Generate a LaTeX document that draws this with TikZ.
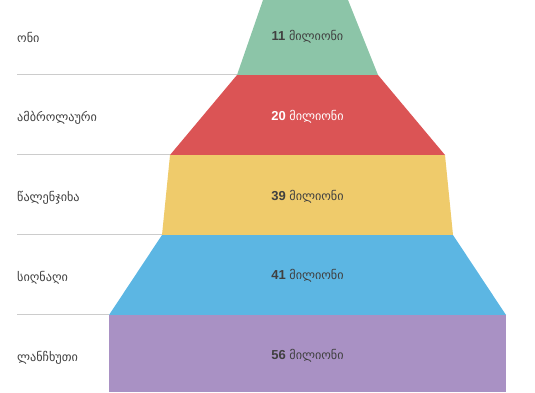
\documentclass[tikz,border=0pt]{standalone}
\usepackage{fontspec}
\setmainfont{Liberation Sans}
\newfontfamily\geo{DejaVu Sans}
\definecolor{cgreen}{HTML}{8CC5A8}
\definecolor{cred}{HTML}{DB5455}
\definecolor{cyellow}{HTML}{EFCB6B}
\definecolor{cblue}{HTML}{5CB6E3}
\definecolor{cpurple}{HTML}{A991C4}
\definecolor{ctext}{HTML}{404040}
\definecolor{cline}{HTML}{CCCCCC}
\newcommand{\geosz}{\geo\fontsize{12.2}{14}\selectfont}
\begin{document}
\begin{tikzpicture}[x=1pt,y=-1pt,
  sep/.style={draw=cline,line width=0.8pt},
  lab/.style={anchor=west,inner sep=0pt,text=ctext,font=\geosz},
  val/.style={anchor=center,inner sep=0pt,text=ctext,font=\fontsize{13}{15}\selectfont},
  wval/.style={val,text=white}]
\useasboundingbox (0,0) rectangle (535,392);
% funnel coordinates
\coordinate (g1) at (263,0);   \coordinate (g2) at (348,0);
\coordinate (r1) at (237,75);  \coordinate (r2) at (378,75);
\coordinate (y1) at (170,155); \coordinate (y2) at (445,155);
\coordinate (b1) at (162,235); \coordinate (b2) at (453,235);
\coordinate (p1) at (109,315); \coordinate (p2) at (506,315);
\coordinate (q1) at (109,392); \coordinate (q2) at (506,392);
\fill[cgreen] (g1) -- (g2) -- (r2) -- (r1) -- cycle;
\fill[cred] (r1) -- (r2) -- (y2) -- (y1) -- cycle;
\fill[cyellow] (y1) -- (y2) -- (b2) -- (b1) -- cycle;
\fill[cblue] (b1) -- (b2) -- (p2) -- (p1) -- cycle;
\fill[cpurple] (p1) -- (p2) -- (q2) -- (q1) -- cycle;
% separators
\coordinate (s1) at (17,74.5);  \coordinate (s2) at (17,154.5);
\coordinate (s3) at (17,234.5); \coordinate (s4) at (17,314.5);
\draw[sep] (s1) -- (r1 |- s1);
\draw[sep] (s2) -- (y1 |- s2);
\draw[sep] (s3) -- (b1 |- s3);
\draw[sep] (s4) -- (p1 |- s4);
% labels
\node[lab] (l1) at (17,37.5) {ონი};
\node[lab] (l2) at (17,117.5) {ამბროლაური};
\node[lab] (l3) at (17,197.5) {წალენჯიხა};
\node[lab] (l4) at (17,277.5) {სიღნაღი};
\node[lab] (l5) at (17,357.5) {ლანჩხუთი};
% values
\node[val] (v1) at (307.5,37) {\textbf{11} {\geosz მილიონი}};
\node[wval] (v2) at (307.5,117) {\textbf{20} {\geosz მილიონი}};
\node[val] (v3) at (307.5,197) {\textbf{39} {\geosz მილიონი}};
\node[val] (v4) at (307.5,276) {\textbf{41} {\geosz მილიონი}};
\node[val] (v5) at (307.5,356) {\textbf{56} {\geosz მილიონი}};
\end{tikzpicture}
\end{document}
